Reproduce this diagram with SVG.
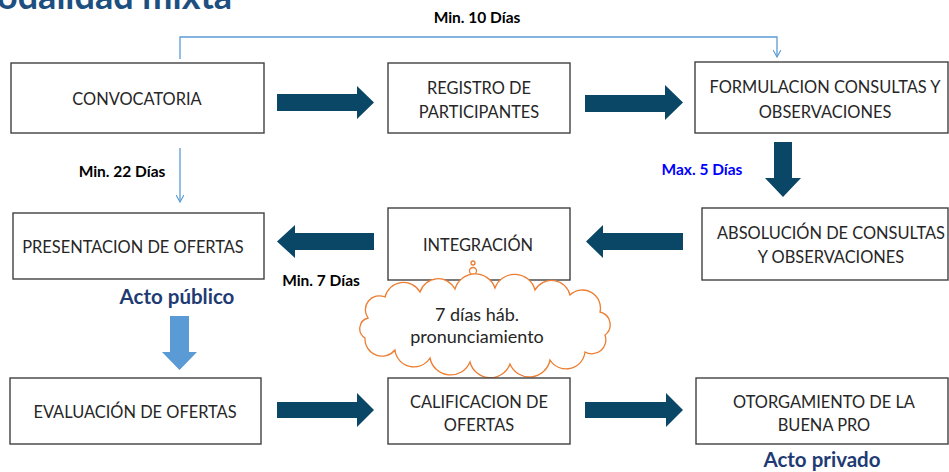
<svg xmlns="http://www.w3.org/2000/svg" width="949" height="472" viewBox="0 0 949 472">
<defs>
<marker id="vhead" viewBox="0 0 10 10" refX="9" refY="5" markerWidth="8" markerHeight="8" markerUnits="userSpaceOnUse" orient="auto">
<path d="M0,0 L9,5 L0,10" fill="none" stroke="#5B9BD5" stroke-width="1.4"/>
</marker>
<style>
.box{fill:#fff;stroke:#404040;stroke-width:1.4}
.lbl{font-family:Lato,"Open Sans","Liberation Sans",sans-serif;font-size:16.4px;fill:#262626;text-anchor:middle}
.cl{font-size:18px}
.days{font-family:Lato,"Open Sans","Liberation Sans",sans-serif;font-size:15.5px;font-weight:bold;fill:#000;text-anchor:middle}
.blue{fill:#0000ff}
.acto{font-family:Lato,"Open Sans","Liberation Sans",sans-serif;font-size:20.5px;font-weight:bold;fill:#1f3b73;text-anchor:middle}
.big{fill:#0a4665}
.thin{fill:none;stroke:#5B9BD5;stroke-width:1.3}
.cloud{fill:#fff;stroke:#ED7D31;stroke-width:1.3}
</style>
</defs>
<rect width="949" height="472" fill="#fff"/>
<text x="-3" y="9" font-family="Lato,'Open Sans','Liberation Sans',sans-serif" font-size="36" font-weight="bold" fill="#1d5080">odalidad mixta</text>

<g id="connectors">
<path class="thin" d="M180,59 V37 H777 V57" marker-end="url(#vhead)"/>
<path class="thin" d="M180,148 V202" marker-end="url(#vhead)"/>
<polygon class="big" points="277,94 357,94 357,86 374,102.5 357,119 357,111 277,111"/>
<polygon class="big" points="585,95 665,95 665,85 683,102.5 665,120 665,112 585,112"/>
<polygon class="big" points="774,142 792,142 792,178 801,178 783,197 765,178 774,178"/>
<polygon class="big" points="683,233 603,233 603,225 586,241.5 603,258 603,250 683,250"/>
<polygon class="big" points="374,233 295,233 295,225 277,241.5 295,258 295,250 374,250"/>
<polygon class="big" points="277,402 357,402 357,393 374,410 357,427 357,418 277,418"/>
<polygon class="big" points="585,402 666,402 666,393 683,410 666,427 666,418 585,418"/>
<polygon fill="#5B9BD5" points="170,316 189,316 189,352 197,352 179.5,370 162,352 170,352"/>
<text class="days" x="477" y="23">Min. 10 Días</text>
<text class="days" x="122" y="177">Min. 22 Días</text>
<text class="days blue" x="702" y="175">Max. 5 Días</text>
<text class="days" x="321" y="286">Min. 7 Días</text>
</g>

<g id="convocatoria">
<rect class="box" x="11" y="63" width="253" height="70"/>
<text class="lbl" x="137" y="105">CONVOCATORIA</text>
</g>
<g id="registro">
<rect class="box" x="388" y="63" width="182" height="70"/>
<text class="lbl" x="479" y="94">REGISTRO DE</text>
<text class="lbl" x="479" y="118">PARTICIPANTES</text>
</g>
<g id="formulacion">
<rect class="box" x="695" y="62" width="253" height="71"/>
<text class="lbl" x="825" y="93">FORMULACION CONSULTAS Y</text>
<text class="lbl" x="825" y="118">OBSERVACIONES</text>
</g>
<g id="presentacion">
<rect class="box" x="13" y="213" width="251" height="66"/>
<text class="lbl" x="133" y="253">PRESENTACION DE OFERTAS</text>
<text class="acto" x="177" y="304">Acto público</text>
</g>
<g id="integracion">
<rect class="box" x="388" y="208" width="182" height="72"/>
<text class="lbl" x="478" y="251">INTEGRACIÓN</text>
</g>
<g id="absolucion">
<rect class="box" x="702" y="208" width="246" height="72"/>
<text class="lbl" x="831" y="239">ABSOLUCIÓN DE CONSULTAS</text>
<text class="lbl" x="831" y="263">Y OBSERVACIONES</text>
</g>
<g id="pronunciamiento">
<circle class="cloud" cx="473" cy="263" r="2"/>
<circle class="cloud" cx="473" cy="271" r="3.5"/>
<circle class="cloud" cx="474" cy="282" r="6"/>
<path class="cloud" d="M368,318 A14,14 0 0 1 385,297 A19,19 0 0 1 420,292 A19,19 0 0 1 455,289 A21,21 0 0 1 495,288 A21,21 0 0 1 535,290 A19,19 0 0 1 570,295 A18,18 0 0 1 600,312 A13,13 0 0 1 605,335 A14,14 0 0 1 585,352 A19,19 0 0 1 550,360 A21,21 0 0 1 510,364 A21,21 0 0 1 470,362 A21,21 0 0 1 430,358 A19,19 0 0 1 395,350 A17,17 0 0 1 365,338 A11,11 0 0 1 368,318 Z"/>
<text class="lbl cl" x="477" y="321">7 días háb.</text>
<text class="lbl cl" x="477" y="343">pronunciamiento</text>
</g>
<g id="evaluacion">
<rect class="box" x="10" y="378" width="251" height="66"/>
<text class="lbl" x="135" y="418">EVALUACIÓN DE OFERTAS</text>
</g>
<g id="calificacion">
<rect class="box" x="388" y="378" width="182" height="66"/>
<text class="lbl" x="479" y="408">CALIFICACION DE</text>
<text class="lbl" x="479" y="431">OFERTAS</text>
</g>
<g id="otorgamiento">
<rect class="box" x="696" y="378" width="252" height="66"/>
<text class="lbl" x="824" y="408">OTORGAMIENTO DE LA</text>
<text class="lbl" x="824" y="431">BUENA PRO</text>
<text class="acto" x="822" y="467">Acto privado</text>
</g>
</svg>
